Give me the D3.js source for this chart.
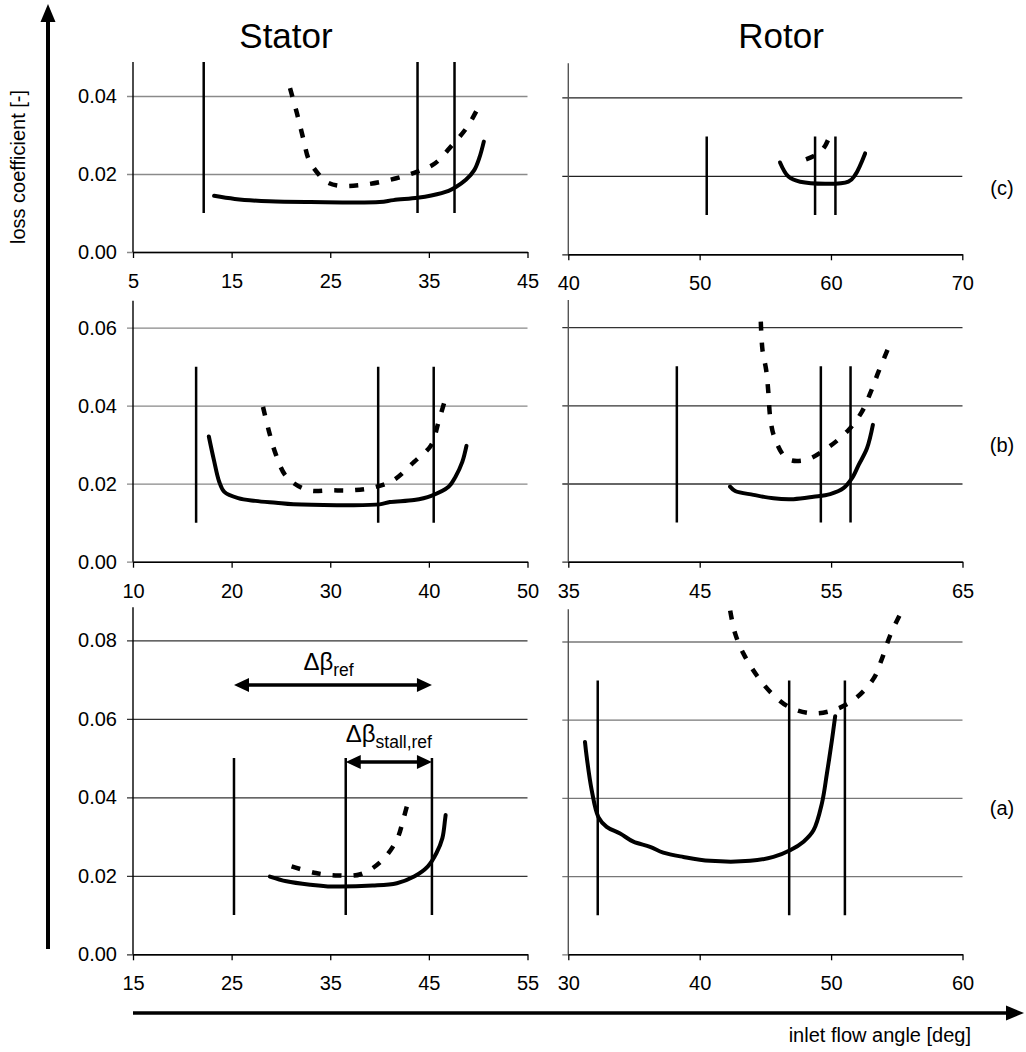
<!DOCTYPE html>
<html><head><meta charset="utf-8">
<script src="https://cdn.jsdelivr.net/npm/d3@7"></script>
<style>
body{margin:0;background:#fff}
svg{display:block}
text{font-family:"Liberation Sans",Arial,sans-serif;fill:#000}
</style>
</head><body>
<svg id="chart" width="1026" height="1052"></svg>
<script>
// ---------- data ----------
const columnTitles = ["Stator", "Rotor"];
const rowLabels = ["(c)", "(b)", "(a)"];
const yAxisTitle = "loss coefficient [-]";
const xAxisTitle = "inlet flow angle [deg]";

const statorCTicksX = [5, 15, 25, 35, 45];
const rotorCTicksX = [40, 50, 60, 70];
const statorBTicksX = [10, 20, 30, 40, 50];
const rotorBTicksX = [35, 45, 55, 65];
const statorATicksX = [15, 25, 35, 45, 55];
const rotorATicksX = [30, 40, 50, 60];
const yTicksC = [0, 0.02, 0.04];
const yTicksB = [0, 0.02, 0.04, 0.06];
const yTicksA = [0, 0.02, 0.04, 0.06, 0.08];

const statorCLines = [12.17, 33.85, 37.6];
const rotorCLines = [50.54, 58.79, 60.34];
const statorBLines = [16.4, 34.86, 40.49];
const rotorBLines = [43.26, 54.22, 56.48];
const statorALines = [25.24, 36.57, 45.31];
const rotorALines = [32.24, 46.81, 51.05];
const statorLineRange = [0.01, 0.05];
const rotorCLineRange = [0.01, 0.03];
const rotorBLineRange = [0.01, 0.05];
const rotorALineRange = [0.01, 0.07];

const statorCSolid = [[13.22,0.0144],[15.32,0.0136],[18.8,0.0130],[23.0,0.0128],[30.0,0.0128],[31.4,0.0133],[33.85,0.0139],[35.25,0.0145],[37.0,0.0157],[37.7,0.0166],[38.75,0.0185],[39.6,0.0210],[40.15,0.0244],[40.57,0.0283]];
const statorCDashed = [[20.92,0.0420],[21.62,0.0356],[22.3,0.0287],[22.84,0.0236],[23.9,0.0197],[24.6,0.0180],[25.8,0.0170],[28.25,0.0172],[31.06,0.0185],[33.5,0.0203],[35.6,0.0227],[37.35,0.0274],[38.9,0.0321],[40.3,0.0385]];
const rotorCSolid = [[56.12,0.0234],[56.76,0.0198],[57.65,0.0185],[61.33,0.0185],[61.84,0.0202],[62.6,0.0257]];
const rotorCDashed = [[58.1,0.0242],[58.66,0.0250],[59.2,0.0262],[59.55,0.0276],[59.8,0.0293]];

const statorBSolid = [[17.69,0.0321],[18.2,0.0261],[18.74,0.0205],[19.26,0.0179],[20.66,0.0163],[22.4,0.0156],[24.5,0.0151],[26.26,0.0147],[31.5,0.0145],[35.0,0.0147],[36.05,0.0153],[38.5,0.0158],[40.24,0.0169],[42.0,0.0192],[42.7,0.0218],[43.39,0.0256],[43.81,0.0297]];
const statorBDashed = [[23.18,0.0397],[23.8,0.0333],[24.5,0.0274],[25.56,0.0218],[27.66,0.0184],[30.1,0.0183],[32.2,0.0183],[34.3,0.0190],[36.4,0.0209],[38.5,0.0256],[40.24,0.0299],[40.94,0.0355],[41.64,0.0415]];
const rotorBSolid = [[47.31,0.0192],[47.7,0.0181],[49.09,0.0171],[50.61,0.0162],[52.14,0.0160],[53.66,0.0166],[54.93,0.0173],[55.94,0.0188],[56.58,0.0213],[57.09,0.0247],[57.73,0.0290],[58.18,0.0350]];
const rotorBDashed = [[49.65,0.0614],[49.78,0.0541],[50.06,0.0490],[50.23,0.0431],[50.36,0.0371],[50.67,0.0320],[51.63,0.0264],[53.03,0.0260],[54.68,0.0290],[56.33,0.0337],[57.35,0.0384],[57.98,0.0431],[58.61,0.0486],[59.45,0.0554]];

const statorASolid = [[28.88,0.0198],[30.56,0.0186],[33.0,0.0177],[34.76,0.0173],[39.3,0.0175],[41.75,0.0181],[43.5,0.0198],[44.9,0.0224],[45.77,0.0258],[46.37,0.0296],[46.64,0.0343],[46.7,0.0355]];
const statorADashed = [[31.08,0.0224],[33.53,0.0207],[35.8,0.0201],[38.07,0.0204],[40.17,0.0237],[41.75,0.0292],[42.44,0.0347],[43.04,0.0403]];
const rotorASolid = [[31.27,0.0543],[31.4,0.0505],[31.78,0.0420],[32.29,0.0351],[32.92,0.0326],[33.94,0.0309],[34.95,0.0288],[36.22,0.0275],[37.23,0.0260],[38.76,0.0249],[40.79,0.0239],[43.84,0.0239],[45.61,0.0249],[46.88,0.0266],[47.9,0.0288],[48.66,0.0317],[49.3,0.0386],[49.68,0.0462],[50.06,0.0547],[50.31,0.0609]];
const rotorADashed = [[42.32,0.0879],[42.7,0.0820],[43.33,0.0769],[44.35,0.0713],[45.49,0.0667],[46.88,0.0631],[48.66,0.0616],[50.31,0.0626],[51.84,0.0654],[53.23,0.0705],[53.87,0.0756],[54.5,0.0816],[55.39,0.0879]];

// annotation values (stator a)
const dBetaRefY = 0.0686;
const dBetaStallY = 0.049;
const dBetaRefLabelPos = [32.28, 0.0724];
const dBetaStallLabelPos = [36.57, 0.0542];

// ---------- layout ----------
const FONT = 20;
const panels = [
  {dom:[5,45], x0:133, x1:527.5, bottom:252, step:78, top:62, ticksX:statorCTicksX, ticksY:yTicksC, labels:true, solid:statorCSolid, dashed:statorCDashed, lines:statorCLines, range:statorLineRange, grid:"#8a8a8a", ax:"#000"},
  {dom:[40,70], x0:568.3, x1:962.3, bottom:254.3, step:78.5, top:63.3, ticksX:rotorCTicksX, ticksY:yTicksC, labels:false, solid:rotorCSolid, dashed:rotorCDashed, lines:rotorCLines, range:rotorCLineRange, grid:"#222", ax:"#555"},
  {dom:[10,50], x0:133, x1:527.5, bottom:561.7, step:78, top:300.7, ticksX:statorBTicksX, ticksY:yTicksB, labels:true, solid:statorBSolid, dashed:statorBDashed, lines:statorBLines, range:statorLineRange, grid:"#888", ax:"#000"},
  {dom:[35,65], x0:568.3, x1:962.5, bottom:561.7, step:78.2, top:300, ticksX:rotorBTicksX, ticksY:yTicksB, labels:false, solid:rotorBSolid, dashed:rotorBDashed, lines:rotorBLines, range:rotorBLineRange, grid:"#333", ax:"#555"},
  {dom:[15,55], x0:133, x1:527.5, bottom:954.3, step:78.5, top:607.3, ticksX:statorATicksX, ticksY:yTicksA, labels:true, solid:statorASolid, dashed:statorADashed, lines:statorALines, range:statorLineRange, grid:"#333", ax:"#000"},
  {dom:[30,60], x0:568.3, x1:962.5, bottom:954.3, step:78.2, top:609.3, ticksX:rotorATicksX, ticksY:yTicksA, labels:false, solid:rotorASolid, dashed:rotorADashed, lines:rotorALines, range:rotorALineRange, grid:"#777", ax:"#555"}
];

const svg = d3.select("#chart");
const defs = svg.append("defs");

panels.forEach((p, i) => {
  const x = d3.scaleLinear().domain(p.dom).range([p.x0, p.x1]);
  const y = d3.scaleLinear().domain([0, 0.02]).range([p.bottom, p.bottom - p.step]);
  p.x = x; p.y = y;
  const yMax = y.invert(p.top);
  const g = svg.append("g");

  defs.append("clipPath").attr("id", "clip" + i)
    .append("rect").attr("x", p.x0 - 1).attr("y", p.top).attr("width", p.x1 - p.x0 + 2).attr("height", p.bottom - p.top);

  const ya = g.append("g").attr("transform", `translate(${p.x1},0)`)
    .call(d3.axisLeft(y).tickValues(p.ticksY).tickSize(p.x1 - p.x0 + 6).tickPadding(10)
      .tickFormat(p.labels ? d3.format(".2f") : () => ""));
  ya.select(".domain").remove();
  ya.selectAll("line").attr("stroke", p.grid).attr("stroke-width", 1.3);
  ya.selectAll("text").style("font-size", FONT + "px").attr("fill", "#000");

  g.append("line").attr("x1", p.x0).attr("x2", p.x0).attr("y1", p.top).attr("y2", p.bottom)
    .attr("stroke", p.ax).attr("stroke-width", 1.4);

  const xa = g.append("g").attr("transform", `translate(0,${p.bottom})`)
    .call(d3.axisBottom(x).tickValues(p.ticksX).tickSize(6).tickSizeOuter(0).tickPadding(16).tickFormat(d3.format("d")));
  xa.select(".domain").attr("stroke", "#000").attr("stroke-width", 1.5);
  xa.selectAll("line").attr("stroke", "#000").attr("stroke-width", 1.3);
  xa.selectAll("text").style("font-size", FONT + "px").attr("fill", "#000");

  const plot = g.append("g").attr("clip-path", `url(#clip${i})`);

  plot.selectAll(".vl").data(p.lines).enter().append("line")
    .attr("x1", d => x(d)).attr("x2", d => x(d))
    .attr("y1", y(p.range[0])).attr("y2", y(Math.min(p.range[1], yMax)))
    .attr("stroke", "#000").attr("stroke-width", 2.5);

  const line = d3.line().x(d => x(d[0])).y(d => y(d[1])).curve(d3.curveCatmullRom.alpha(0.5));
  plot.append("path").attr("d", line(p.dashed)).attr("fill", "none")
    .attr("stroke", "#000").attr("stroke-width", 4.5).attr("stroke-dasharray", "9,12");
  plot.append("path").attr("d", line(p.solid)).attr("fill", "none")
    .attr("stroke", "#000").attr("stroke-width", 4).attr("stroke-linejoin", "round").attr("stroke-linecap", "round");
});

svg.append("text").attr("x", 286).attr("y", 48).attr("text-anchor", "middle").style("font-size", "35px").text(columnTitles[0]);
svg.append("text").attr("x", 781).attr("y", 48).attr("text-anchor", "middle").style("font-size", "35px").text(columnTitles[1]);

[[188, rowLabels[0]], [445, rowLabels[1]], [808, rowLabels[2]]].forEach(([yy, t]) => {
  svg.append("text").attr("x", 1002).attr("y", yy).attr("dy", "0.35em").attr("text-anchor", "middle")
    .style("font-size", FONT + "px").text(t);
});

svg.append("line").attr("x1", 48).attr("x2", 48).attr("y1", 949).attr("y2", 18).attr("stroke", "#000").attr("stroke-width", 4);
svg.append("path").attr("d", "M48,4 L40.5,22 L55.5,22 Z").attr("fill", "#000");
svg.append("line").attr("x1", 133).attr("x2", 1008).attr("y1", 1013).attr("y2", 1013).attr("stroke", "#000").attr("stroke-width", 3.5);
svg.append("path").attr("d", "M1024,1013 L1006,1005.5 L1006,1020.5 Z").attr("fill", "#000");

svg.append("text").attr("transform", "translate(25,167) rotate(-90)").attr("text-anchor", "middle")
  .style("font-size", FONT + "px").text(yAxisTitle);
svg.append("text").attr("x", 971).attr("y", 1042).attr("text-anchor", "end")
  .style("font-size", FONT + "px").text(xAxisTitle);

const pa = panels[4];
function dblArrow(xa, xb, yv) {
  const yy = pa.y(yv), a = pa.x(xa), b = pa.x(xb), L = 15, H = 7;
  svg.append("line").attr("x1", a + L - 2).attr("x2", b - L + 2).attr("y1", yy).attr("y2", yy)
    .attr("stroke", "#000").attr("stroke-width", 3.5);
  svg.append("path").attr("d", `M${a},${yy} L${a + L},${yy - H} L${a + L},${yy + H} Z`).attr("fill", "#000");
  svg.append("path").attr("d", `M${b},${yy} L${b - L},${yy - H} L${b - L},${yy + H} Z`).attr("fill", "#000");
}
dblArrow(statorALines[0], statorALines[2], dBetaRefY);
dblArrow(statorALines[1], statorALines[2], dBetaStallY);

function dbLabel(pos, sub) {
  const t = svg.append("text").attr("x", pa.x(pos[0])).attr("y", pa.y(pos[1])).style("font-size", "24px");
  t.append("tspan").text("Δβ");
  t.append("tspan").attr("dy", 6).style("font-size", "17.5px").text(sub);
}
dbLabel(dBetaRefLabelPos, "ref");
dbLabel(dBetaStallLabelPos, "stall,ref");
</script>
</body></html>
